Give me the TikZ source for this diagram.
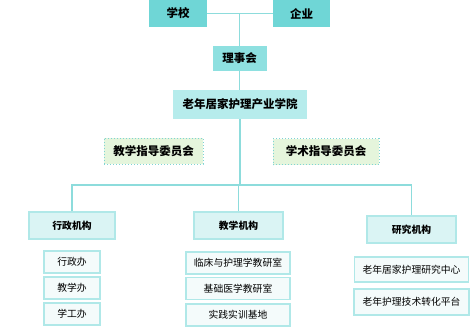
\documentclass[tikz,border=0pt]{standalone}
\usepackage{fontspec}
\setmainfont{Noto Sans CJK SC}
\usepackage{tikz}
\usetikzlibrary{positioning}

\definecolor{topfill}{HTML}{6FD6D6}
\definecolor{boardfill}{HTML}{8EE0E0}
\definecolor{collegefill}{HTML}{B6ECEC}
\definecolor{cmtfill}{HTML}{E5F5DC}
\definecolor{cmtline}{HTML}{7FD4D4}
\definecolor{deptfill}{HTML}{DAF4F4}
\definecolor{leaffill}{HTML}{F4FBFB}
\definecolor{boxline}{HTML}{B0E8E8}
\definecolor{wire}{HTML}{8DDCDC}

\begin{document}
\begin{tikzpicture}[
  x=1pt, y=-1pt,
  base/.style={inner sep=0pt, align=center},
  topbox/.style={base, fill=topfill, font=\fontsize{11.5}{12}\selectfont\bfseries, minimum height=27pt},
  board/.style={base, fill=boardfill, font=\fontsize{11.5}{12}\selectfont\bfseries, minimum height=25pt},
  college/.style={base, fill=collegefill, font=\fontsize{11.5}{12}\selectfont\bfseries, minimum height=29pt},
  cmt/.style={base, fill=cmtfill, draw=cmtline, dotted, line width=1pt, font=\fontsize{11.5}{12}\selectfont\bfseries, minimum height=26pt},
  dept/.style={base, fill=deptfill, draw=boxline, line width=1.3pt, font=\fontsize{9.8}{10}\selectfont\bfseries, minimum height=27pt},
  leaf/.style={base, fill=leaffill, draw=boxline, line width=1.2pt, font=\fontsize{9.8}{10}\selectfont, minimum height=22pt},
  link/.style={draw=wire, line width=1.4pt}
]
  \useasboundingbox (0,0) rectangle (474,330);

  % top level
  \node[topbox, minimum width=58pt] (school) at (178,13.5) {学校};
  \node[topbox, minimum width=57pt] (firm) at (301.5,13.5) {企业};
  \node[board, minimum width=54pt] (board) at (239.5,58.5) {理事会};
  \node[college, minimum width=134pt] (college) at (240,104.5) {老年居家护理产业学院};

  % committees
  \node[cmt, minimum width=99pt] (teachcmt) at (153.5,151) {教学指导委员会};
  \node[cmt, minimum width=106pt] (acadcmt) at (326,151.5) {学术指导委员会};

  % departments
  \node[dept, minimum width=86pt] (admin) at (72,225.5) {行政机构};
  \node[dept, minimum width=89pt] (teach) at (238.5,225.5) {教学机构};
  \node[dept, minimum width=89pt] (research) at (411.5,229.5) {研究机构};

  % leaves
  \node[leaf, minimum width=56pt] (adm1) at (72,262) {行政办};
  \node[leaf, minimum width=56pt] (adm2) at (72,288) {教学办};
  \node[leaf, minimum width=56pt] (adm3) at (72,314) {学工办};
  \node[leaf, minimum width=104pt] (tch1) at (238,263) {临床与护理学教研室};
  \node[leaf, minimum width=104pt] (tch2) at (238,288.5) {基础医学教研室};
  \node[leaf, minimum width=104pt] (tch3) at (238,315) {实践实训基地};
  \node[leaf, minimum width=114pt, minimum height=25pt] (res1) at (411.5,269.5) {老年居家护理研究中心};
  \node[leaf, minimum width=115pt, minimum height=26pt] (res2) at (411.5,302) {老年护理技术转化平台};

  % connectors
  \coordinate (hub) at (240,185);
  \draw[link] (school.east) -- (firm.west);
  \draw[link] (board.north |- school.east) -- (board.north);
  \draw[link] (board.south) -- (board.south |- college.north);
  \draw[link] (college.south) -- (hub);
  \draw[link] (admin.north) |- (hub) -| (research.north);
  \draw[link] (teach.north |- hub) -- (teach.north);
\end{tikzpicture}
\end{document}
